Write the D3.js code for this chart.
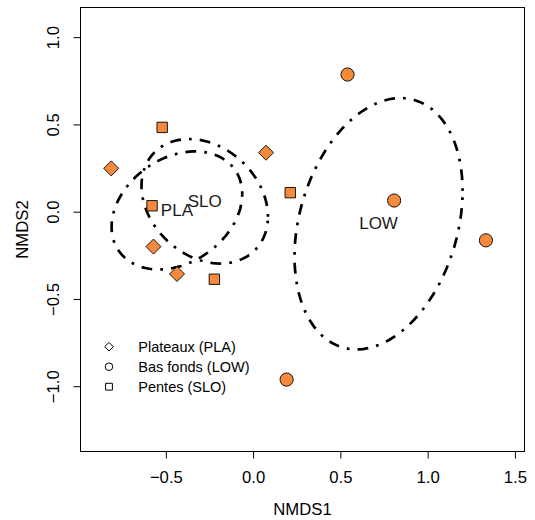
<!DOCTYPE html>
<html>
<head>
<meta charset="utf-8">
<title>NMDS</title>
<script src="https://cdn.jsdelivr.net/npm/d3@7"></script>
<style>
    body { margin: 0; background: #ffffff; }
    svg { display: block; font-family: "Liberation Sans", Arial, sans-serif; }
</style>
</head>
<body>
<script>

// site scores, one array per habitat
var plaX = [-0.813, 0.074, -0.571, -0.436];
var plaY = [0.248, 0.338, -0.200, -0.357];
var lowX = [0.541, 0.808, 1.334, 0.192];
var lowY = [0.786, 0.064, -0.164, -0.962];
var sloX = [-0.521, 0.213, -0.579, -0.222];
var sloY = [0.483, 0.109, 0.034, -0.387];

var groups = ["PLA", "LOW", "SLO"];
var shapes = ["diamond", "circle", "square"];
var legendLabels = ["Plateaux (PLA)", "Bas fonds (LOW)", "Pentes (SLO)"];

var xTicks = [-0.5, 0.0, 0.5, 1.0, 1.5];
var yTicks = [-1.0, -0.5, 0.0, 0.5, 1.0];

window.onload = function(){

    var W = 535, H = 520;
    var margin = {top: 7.5, left: 80.5},
        w = 444,
        h = 444;

    var fill = "#f68a3c";

    var svg = d3.select("body")
        .append("svg")
        .attr("width", W)
        .attr("height", H);

    // equal aspect, as in ordiplot
    var xscale = d3.scaleLinear()
        .domain([-0.989, 1.555])
        .range([margin.left, margin.left + w]);

    var yscale = d3.scaleLinear()
        .domain([-1.374, 1.170])
        .range([margin.top + h, margin.top]);

    var series = {
        PLA: {x: plaX, y: plaY},
        LOW: {x: lowX, y: lowY},
        SLO: {x: sloX, y: sloY}
    };

    // axes
    var xAxis = svg.append("g")
        .attr("transform", "translate(0," + (margin.top + h) + ")")
        .call(d3.axisBottom(xscale).tickValues(xTicks).tickFormat(d3.format(".1f"))
            .tickSize(7).tickSizeOuter(0).tickPadding(13));
    xAxis.select(".domain").remove();
    xAxis.selectAll("line").attr("stroke", "#000");
    xAxis.selectAll("text")
        .attr("font-size", "16.7px")
        .attr("font-family", "Liberation Sans, Arial, sans-serif")
        .attr("fill", "#000")
        .text(function(d){ return d3.format(".1f")(d).replace("-", "\u2212"); });

    var yAxis = svg.append("g")
        .attr("transform", "translate(" + margin.left + ",0)")
        .call(d3.axisLeft(yscale).tickValues(yTicks).tickSize(7).tickSizeOuter(0));
    yAxis.select(".domain").remove();
    yAxis.selectAll("line").attr("stroke", "#000");
    yAxis.selectAll("text")
        .attr("x", null).attr("dy", null)
        .attr("transform", "translate(-27.4,0) rotate(-90)")
        .attr("text-anchor", "middle")
        .attr("dominant-baseline", "central")
        .attr("font-size", "16.7px")
        .attr("font-family", "Liberation Sans, Arial, sans-serif")
        .attr("fill", "#000")
        .text(function(d){ return d3.format(".1f")(d).replace("-", "\u2212"); });

    // box
    svg.append("rect")
        .attr("x", margin.left)
        .attr("y", margin.top)
        .attr("width", w)
        .attr("height", h)
        .attr("fill", "none")
        .attr("stroke", "#000")
        .attr("stroke-width", 1);

    // axis titles
    svg.append("text")
        .text("NMDS1")
        .attr("x", margin.left + w / 2)
        .attr("y", 509)
        .attr("text-anchor", "middle")
        .attr("dominant-baseline", "central")
        .attr("font-size", "16.7px");

    svg.append("text")
        .text("NMDS2")
        .attr("transform", "translate(22.5," + (margin.top + h / 2) + ") rotate(-90)")
        .attr("text-anchor", "middle")
        .attr("dominant-baseline", "central")
        .attr("font-size", "16.7px");

    // 1 sd ellipses (cov.wt + chol, 100 segments like veganCovEllipse)
    var line = d3.line()
        .x(function(d){ return xscale(d[0]); })
        .y(function(d){ return yscale(d[1]); });

    groups.forEach(function(g){
        var xs = series[g].x, ys = series[g].y, n = xs.length;
        var mx = d3.mean(xs), my = d3.mean(ys);
        var vx = 0, vy = 0, cxy = 0;
        for(var i = 0; i < n; i++){
            vx += (xs[i] - mx) * (xs[i] - mx);
            vy += (ys[i] - my) * (ys[i] - my);
            cxy += (xs[i] - mx) * (ys[i] - my);
        }
        vx /= (n - 1); vy /= (n - 1); cxy /= (n - 1);
        var u11 = Math.sqrt(vx),
            u12 = cxy / u11,
            u22 = Math.sqrt(vy - u12 * u12);
        var pts = [];
        for(var k = 0; k <= 100; k++){
            var t = k * 2 * Math.PI / 100;
            pts.push([mx + Math.cos(t) * u11, my + Math.cos(t) * u12 + Math.sin(t) * u22]);
        }
        svg.append("path")
            .attr("d", line(pts))
            .attr("fill", "none")
            .attr("stroke", "#000")
            .attr("stroke-width", 2.7)
            .attr("stroke-linecap", "butt")
            .attr("stroke-dasharray", "2.7,8.1,10.8,8.1");

        svg.append("text")
            .text(g)
            .attr("x", xscale(mx))
            .attr("y", yscale(my))
            .attr("text-anchor", "middle")
            .attr("dominant-baseline", "central")
            .attr("font-size", "17px")
            .attr("fill", "#1a1a1a");
    });

    // points
    function symbolPath(shape, s){
        if(shape == "diamond"){
            return "M0," + (-s) + "L" + s + ",0L0," + s + "L" + (-s) + ",0Z";
        }
        if(shape == "square"){
            return "M" + (-s) + "," + (-s) + "H" + s + "V" + s + "H" + (-s) + "Z";
        }
        return "M" + s + ",0A" + s + "," + s + " 0 1,1 " + (-s) + ",0A" + s + "," + s + " 0 1,1 " + s + ",0Z";
    }
    var sizes = {diamond: 7.5, circle: 6.6, square: 5.2};

    groups.forEach(function(g, gi){
        var shape = shapes[gi];
        var pts = d3.zip(series[g].x, series[g].y);
        svg.selectAll(".pt-" + g)
            .data(pts)
            .enter()
            .append("path")
            .attr("class", "pt-" + g)
            .attr("transform", function(d){ return "translate(" + xscale(d[0]) + "," + yscale(d[1]) + ")"; })
            .attr("d", symbolPath(shape, sizes[shape]))
            .attr("fill", fill)
            .attr("stroke", "#000")
            .attr("stroke-width", 0.9);
    });

    // legend
    var legSizes = {diamond: 4.3, circle: 3.8, square: 3.4};
    var legend = svg.append("g").attr("class", "legend");
    legendLabels.forEach(function(lab, i){
        var yy = 346.7 + i * 20;
        legend.append("path")
            .attr("transform", "translate(109," + yy + ")")
            .attr("d", symbolPath(shapes[i], legSizes[shapes[i]]))
            .attr("fill", "none")
            .attr("stroke", "#000")
            .attr("stroke-width", 1);
        legend.append("text")
            .text(lab)
            .attr("x", 138.3)
            .attr("y", yy)
            .attr("dominant-baseline", "central")
            .attr("font-size", "14.5px");
    });
};
</script>
</body>
</html>
